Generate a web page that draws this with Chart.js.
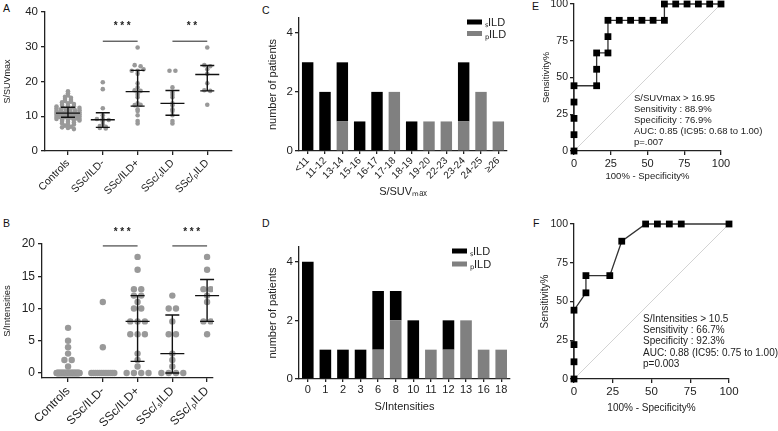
<!DOCTYPE html>
<html>
<head>
<meta charset="utf-8">
<script src="https://cdn.jsdelivr.net/npm/chart.js@4.4.1/dist/chart.umd.min.js"></script>
<style>
  html, body { margin: 0; padding: 0; background: #fff; }
  body { position: relative; width: 778px; height: 431px; overflow: hidden; font-family: 'Liberation Sans', Arial, sans-serif; }
  canvas { position: absolute; }
  .tag { position: absolute; font-size: 10.5px; line-height: 11px; color: #111; }
</style>
</head>
<body>
<div class="tag" style="left:3px;top:3px">A</div>
<div class="tag" style="left:3px;top:218px">B</div>
<div class="tag" style="left:262px;top:5px">C</div>
<div class="tag" style="left:262px;top:218px">D</div>
<div class="tag" style="left:532px;top:1px">E</div>
<div class="tag" style="left:533px;top:218px">F</div>

<canvas id="chartA" width="240" height="215" style="left:0;top:0"></canvas>
<canvas id="chartB" width="240" height="216" style="left:0;top:215px"></canvas>
<canvas id="chartC" width="260" height="215" style="left:260px;top:0"></canvas>
<canvas id="chartD" width="260" height="216" style="left:260px;top:215px"></canvas>
<canvas id="chartE" width="258" height="221" style="left:520px;top:-6px"></canvas>
<canvas id="chartF" width="258" height="216" style="left:520px;top:215px"></canvas>

<script>
// ---- data ----
const groupLabels = ['Controls', 'SSc/ILD-', 'SSc/ILD+', 'SSc/ₛILD', 'SSc/ₚILD'];

// A: S/SUVmax per subject
const suvControls = [17.2, 16.6, 16.0, 15.6, 15.3, 15.0, 14.7, 14.4, 14.2, 14.0,
  13.7, 13.5, 13.3, 13.1, 12.9, 12.8, 12.7, 12.6, 12.5, 12.4,
  12.2, 12.1, 12.0, 11.9, 11.8, 11.7, 11.6, 11.5, 11.4, 11.3,
  11.2, 11.1, 11.0, 11.0, 10.9, 10.9, 10.8, 10.8, 10.7, 10.6,
  10.6, 10.5, 10.4, 10.4, 10.3, 10.2, 10.1, 10.0, 10.0, 9.9,
  9.8, 9.8, 9.7, 9.7, 9.6, 9.5, 9.4, 9.3, 9.2, 9.1,
  9.0, 8.9, 8.8, 8.6, 8.4, 8.2, 8.0, 7.8, 7.6, 7.3,
  7.0, 6.8, 6.6, 6.3];
const suvIldNeg = [19.8, 17.8, 12.3, 10.3, 9.3, 9.2, 9.0, 8.9, 8.5, 7.6, 7.2, 7.0, 6.6, 6.5];
const suvSild = [23.1, 23.1, 18.3, 16.8, 16.2, 15.5, 13.7, 13.2, 12.0, 11.5, 10.3, 8.6, 7.9];
const suvPild = [29.8, 24.7, 24.4, 23.5, 22.2, 19.5, 17.5, 17.3, 13.3];
const suvIldPos = suvSild.concat(suvPild);
const suvMedian = [10.9, 9.0, 17.1, 13.7, 22.0];
const suvQ1 = [9.7, 6.8, 12.9, 10.3, 17.3];
const suvQ3 = [12.6, 11.0, 23.2, 17.4, 24.6];
const suvTicks = [0, 10, 20, 30, 40];

// B: S/Intensities per subject
const intControlsLevels = [0, 1, 2, 3, 4, 5, 7];
const intControlsCounts = [67, 1, 2, 1, 1, 1, 1];
const intIldNeg = [0, 0, 0, 0, 0, 0, 0, 0, 0, 0, 0, 0, 4, 11];
const intSild = [0, 0, 0, 0, 1, 2, 3, 6, 6, 8, 10, 10, 12];
const intPild = [6, 8, 8, 11, 12, 13, 13, 16, 18];
const intIldPos = intSild.concat(intPild);
const intMedian = [null, null, 8, 3, 12];
const intQ1 = [null, null, 1.8, 0, 8];
const intQ3 = [null, null, 12, 9, 14.5];
const intTicks = [0, 5, 10, 15, 20];

// C / D: histograms
const suvBins = ['<11', '11-12', '13-14', '15-16', '16-17', '17-18', '18-19', '19-20', '22-23', '23-24', '24-25', '≥26'];
const suvSildCounts = [3, 2, 2, 1, 2, 0, 1, 0, 0, 2, 0, 0];
const suvPildCounts = [0, 0, 1, 0, 0, 2, 0, 1, 1, 1, 2, 1];
const intBins = ['0', '1', '2', '3', '6', '8', '10', '11', '12', '13', '16', '18'];
const intSildCounts = [4, 1, 1, 1, 2, 1, 2, 0, 1, 0, 0, 0];
const intPildCounts = [0, 0, 0, 0, 1, 2, 0, 1, 1, 2, 1, 1];
const countTicks = [0, 2, 4];

// E / F: ROC curves
const rocTicks = [0, 25, 50, 75, 100];
const rocSuvFpr = [0, 0, 0, 0, 0, 15.4, 15.4, 15.4, 23.1, 23.1, 23.1, 30.8, 38.5, 46.2, 53.8, 61.5, 61.5, 69.2, 76.9, 84.6, 92.3, 100];
const rocSuvTpr = [0, 11.1, 22.2, 33.3, 44.4, 44.4, 55.6, 66.7, 66.7, 77.8, 88.9, 88.9, 88.9, 88.9, 88.9, 88.9, 100, 100, 100, 100, 100, 100];
const rocIntFpr = [0, 0, 0, 0, 7.7, 7.7, 23.1, 30.8, 46.2, 53.8, 61.5, 69.2, 100];
const rocIntTpr = [0, 11.1, 22.2, 44.4, 55.6, 66.7, 66.7, 88.9, 100, 100, 100, 100, 100];
const rocSuvNote = ['S/SUVmax > 16.95', 'Sensitivity : 88.9%', 'Specificity : 76.9%', 'AUC: 0.85 (IC95: 0.68 to 1.00)', 'p=.007'];
const rocIntNote = ['S/Intensities > 10.5', 'Sensitivity : 66.7%', 'Specificity : 92.3%', 'AUC: 0.88 (IC95: 0.75 to 1.00)', 'p=0.003'];

// ---- helpers ----
const INK = '#222';
Chart.defaults.font.family = "'Liberation Sans', Arial, sans-serif";
Chart.defaults.color = INK;
Chart.defaults.animation = false;

const fixTicks = list => axis => { axis.ticks = list.map(v => ({ value: v })); };

// spread points of the same row sideways, like a column scatter
function swarm(values, bin, step, maxHalf) {
  const rows = {};
  values.forEach((v, i) => {
    const k = Math.round(v / bin);
    (rows[k] = rows[k] || []).push(i);
  });
  const off = new Array(values.length).fill(0);
  Object.values(rows).forEach(idx => {
    const n = idx.length;
    const s = n > 1 ? Math.min(step, 2 * maxHalf / (n - 1)) : 0;
    idx.forEach((i, j) => { off[i] = (j - (n - 1) / 2) * s; });
  });
  return off;
}

function columnPoints(groups, bin, step, maxHalf) {
  const pts = [];
  groups.forEach((vals, g) => {
    const off = swarm(vals, bin, step, maxHalf);
    vals.forEach((v, i) => pts.push({ x: g + off[i], y: v }));
  });
  return pts;
}

function axisLine() {
  return { drawOnChartArea: false, drawTicks: true, tickLength: 4, color: INK, lineWidth: 1.3 };
}

// median + IQR bars and significance brackets
const errorBars = {
  id: 'errorBars',
  afterDatasetsDraw(chart, args, o) {
    const { ctx, scales: { x, y } } = chart;
    ctx.save();
    ctx.strokeStyle = '#111';
    ctx.lineWidth = 1.4;
    o.median.forEach((m, g) => {
      if (m == null) return;
      const cx = x.getPixelForValue(g);
      const ym = y.getPixelForValue(m), y1 = y.getPixelForValue(o.q1[g]), y3 = y.getPixelForValue(o.q3[g]);
      ctx.beginPath();
      ctx.moveTo(cx, y1); ctx.lineTo(cx, y3);
      ctx.moveTo(cx - 7, y1); ctx.lineTo(cx + 7, y1);
      ctx.moveTo(cx - 7, y3); ctx.lineTo(cx + 7, y3);
      ctx.moveTo(cx - 12, ym); ctx.lineTo(cx + 12, ym);
      ctx.stroke();
    });
    ctx.lineWidth = 1;
    ctx.strokeStyle = INK;
    ctx.fillStyle = INK;
    ctx.font = "bold 10px 'Liberation Sans', Arial, sans-serif";
    ctx.textAlign = 'center';
    ctx.textBaseline = 'middle';
    o.sig.forEach(([a, b, stars]) => {
      const xa = x.getPixelForValue(a), xb = x.getPixelForValue(b);
      const yl = y.getPixelForValue(o.sigLine), yt = y.getPixelForValue(o.sigText);
      ctx.beginPath();
      ctx.moveTo(xa, yl); ctx.lineTo(xb, yl);
      ctx.stroke();
      const mid = (xa + xb) / 2 + 2;
      for (let i = 0; i < stars; i++) ctx.fillText('*', mid + (i - (stars - 1) / 2) * 6.5, yt + 2);
    });
    ctx.restore();
  }
};

// legend drawn inside the plot, top right
const insideLegend = {
  id: 'insideLegend',
  afterDraw(chart, args, o) {
    const ctx = chart.ctx;
    const sets = chart.data.datasets.slice().reverse();
    ctx.save();
    ctx.font = "11px 'Liberation Sans', Arial, sans-serif";
    ctx.textBaseline = 'middle';
    sets.forEach((ds, i) => {
      const yy = o.y + i * o.gap;
      ctx.fillStyle = ds.backgroundColor;
      ctx.fillRect(o.x, yy - 2.5, 15, 5);
      ctx.fillStyle = INK;
      ctx.fillText(ds.label, o.x + 18, yy + 1);
    });
    ctx.restore();
  }
};

// text block on the ROC plots
const noteText = {
  id: 'noteText',
  afterDraw(chart, args, o) {
    const ctx = chart.ctx;
    ctx.save();
    ctx.font = o.size + "px 'Liberation Sans', Arial, sans-serif";
    ctx.fillStyle = INK;
    ctx.textBaseline = 'middle';
    o.lines.forEach((t, i) => ctx.fillText(t, o.x, o.y + i * o.gap));
    ctx.restore();
  }
};

// ---- A ----
new Chart(document.getElementById('chartA'), {
  type: 'scatter',
  data: {
    datasets: [{
      data: columnPoints([suvControls, suvIldNeg, suvIldPos, suvSild, suvPild], 0.6, 0.17, 0.33),
      backgroundColor: '#999', borderWidth: 0, pointRadius: 2.3
    }]
  },
  options: {
    responsive: false,
    layout: { padding: { top: 12, right: 8, left: 0, bottom: 0 } },
    plugins: {
      legend: { display: false }, tooltip: { enabled: false },
      errorBars: { median: suvMedian, q1: suvQ1, q3: suvQ3, sig: [[1, 2, 3], [3, 4, 2]], sigLine: 31.6, sigText: 36.5 }
    },
    scales: {
      x: {
        type: 'linear', min: -0.66, max: 4.71,
        afterBuildTicks: fixTicks([0, 1, 2, 3, 4]),
        ticks: { callback: v => groupLabels[v], minRotation: 45, maxRotation: 45, autoSkip: false, font: { size: 10.5 }, padding: 2 },
        grid: axisLine(), border: { color: INK, width: 1.3 },
        afterFit: a => { a.height = 64; }
      },
      y: {
        min: 0, max: 40,
        afterBuildTicks: fixTicks(suvTicks),
        ticks: { font: { size: 11.5 }, padding: 3 },
        grid: axisLine(), border: { color: INK, width: 1.3 },
        title: { display: true, text: 'S/SUVmax', font: { size: 9 }, padding: { top: 2, bottom: 0 } },
        afterFit: a => { a.width = 45; }
      }
    }
  },
  plugins: [errorBars]
});

// ---- B ----
const intControls = [];
intControlsLevels.forEach((v, i) => { for (let k = 0; k < intControlsCounts[i]; k++) intControls.push(v); });

new Chart(document.getElementById('chartB'), {
  type: 'scatter',
  data: {
    datasets: [{
      data: columnPoints([intControls, intIldNeg, intIldPos, intSild, intPild], 1, 0.21, 0.33),
      backgroundColor: '#999', borderWidth: 0, pointRadius: 3.2
    }]
  },
  options: {
    responsive: false,
    layout: { padding: { top: 29, right: 27, left: 0, bottom: 0 } },
    plugins: {
      legend: { display: false }, tooltip: { enabled: false },
      errorBars: { median: intMedian, q1: intQ1, q3: intQ3, sig: [[1, 2, 3], [3, 4, 3]], sigLine: 19.7, sigText: 22.2 }
    },
    scales: {
      x: {
        type: 'linear', min: -0.75, max: 4.17,
        afterBuildTicks: fixTicks([0, 1, 2, 3, 4]),
        ticks: { callback: v => groupLabels[v], minRotation: 45, maxRotation: 45, autoSkip: false, font: { size: 12 }, padding: 2 },
        grid: axisLine(), border: { color: INK, width: 1.3 },
        afterFit: a => { a.height = 53; }
      },
      y: {
        min: -0.78, max: 20,
        afterBuildTicks: fixTicks(intTicks),
        ticks: { font: { size: 12 }, padding: 3 },
        grid: axisLine(), border: { color: INK, width: 1.3 },
        title: { display: true, text: 'S/Intensities', font: { size: 9.5 }, padding: { top: 1.5, bottom: 0 } },
        afterFit: a => { a.width = 42; }
      }
    }
  },
  plugins: [errorBars]
});

// ---- C / D ----
function histogram(id, bins, sild, pild, o) {
  return new Chart(document.getElementById(id), {
    type: 'bar',
    data: {
      labels: bins,
      datasets: [
        { label: 'ₚILD', data: pild, backgroundColor: '#808080' },
        { label: 'ₛILD', data: sild, backgroundColor: '#000000' }
      ]
    },
    options: {
      responsive: false,
      barPercentage: 0.66, categoryPercentage: 1,
      layout: { padding: { top: o.top, right: o.right, left: 0, bottom: 0 } },
      plugins: {
        legend: { display: false }, tooltip: { enabled: false },
        insideLegend: o.legend
      },
      scales: {
        x: {
          stacked: true,
          ticks: { minRotation: o.rot, maxRotation: o.rot, autoSkip: false, font: { size: o.xSize }, padding: 1 },
          grid: { ...axisLine(), offset: false, tickLength: 3 }, border: { color: INK, width: 1.3 },
          title: { display: true, text: o.xTitle, font: { size: 11 }, padding: { top: 0, bottom: o.xTitlePad } },
          afterFit: a => { a.height = o.xHeight; }
        },
        y: {
          stacked: true, min: 0, max: 4.5,
          afterBuildTicks: fixTicks(countTicks),
          ticks: { font: { size: 11.5 }, padding: 2 },
          grid: axisLine(), border: { color: INK, width: 1.3 },
          title: { display: true, text: 'number of patients', font: { size: 11 }, padding: { top: 6.5, bottom: 0 } },
          afterFit: a => { a.width = 39; }
        }
      }
    },
    plugins: [insideLegend]
  });
}

histogram('chartC', suvBins, suvSildCounts, suvPildCounts, {
  top: 18, right: 13, rot: 45, xSize: 10, xTitle: 'S/SUVₘₐₓ', xTitlePad: 16, xHeight: 64,
  legend: { x: 207, y: 22, gap: 11.5 }
});
histogram('chartD', intBins, intSildCounts, intPildCounts, {
  top: 32, right: 10, rot: 0, xSize: 11, xTitle: 'S/Intensities', xTitlePad: 17, xHeight: 52,
  legend: { x: 192, y: 36, gap: 13 }
});

// ---- E / F ----
function roc(id, fpr, tpr, o) {
  return new Chart(document.getElementById(id), {
    type: 'scatter',
    data: {
      datasets: [
        {
          data: fpr.map((v, i) => ({ x: v, y: tpr[i] })),
          showLine: true, borderColor: '#333', borderWidth: 1.3,
          pointStyle: 'rect', pointRadius: 4.8, backgroundColor: '#000', pointBorderWidth: 0,
          clip: false, order: 0
        },
        {
          data: [{ x: 0, y: 0 }, { x: 100, y: 100 }],
          showLine: true, borderColor: '#c8c8c8', borderWidth: 0.8, pointRadius: 0, order: 1
        }
      ]
    },
    options: {
      responsive: false,
      layout: { padding: { top: o.top, right: o.right, left: 0, bottom: 0 } },
      plugins: {
        legend: { display: false }, tooltip: { enabled: false },
        noteText: o.note
      },
      scales: {
        x: {
          min: 0, max: 100,
          afterBuildTicks: fixTicks(rocTicks),
          ticks: { font: { size: o.xSize }, padding: 2 },
          grid: axisLine(), border: { color: INK, width: 1.3 },
          title: { display: true, text: '100% - Specificity%', font: { size: o.tSize }, padding: { top: 0, bottom: o.xTitlePad } },
          afterFit: a => { a.height = o.xHeight; }
        },
        y: {
          min: 0, max: 100,
          afterBuildTicks: fixTicks(rocTicks),
          ticks: { font: { size: 10.5 }, padding: 2 },
          grid: axisLine(), border: { color: INK, width: 1.3 },
          title: { display: true, text: 'Sensitivity%', font: { size: o.tSize }, padding: { top: o.yTitlePad, bottom: 0 } },
          afterFit: a => { a.width = 54; }
        }
      }
    },
    plugins: [noteText]
  });
}

roc('chartE', rocSuvFpr, rocSuvTpr, {
  top: 10, right: 57, xSize: 11, tSize: 9.5, xTitlePad: 33, xHeight: 64, yTitlePad: 21,
  note: { lines: rocSuvNote, x: 114, y: 104, gap: 11.2, size: 9.5 }
});
roc('chartF', rocIntFpr, rocIntTpr, {
  top: 9, right: 49, xSize: 11.5, tSize: 10, xTitlePad: 17, xHeight: 52, yTitlePad: 19,
  note: { lines: rocIntNote, x: 123, y: 104, gap: 11.3, size: 10 }
});
</script>
</body>
</html>
